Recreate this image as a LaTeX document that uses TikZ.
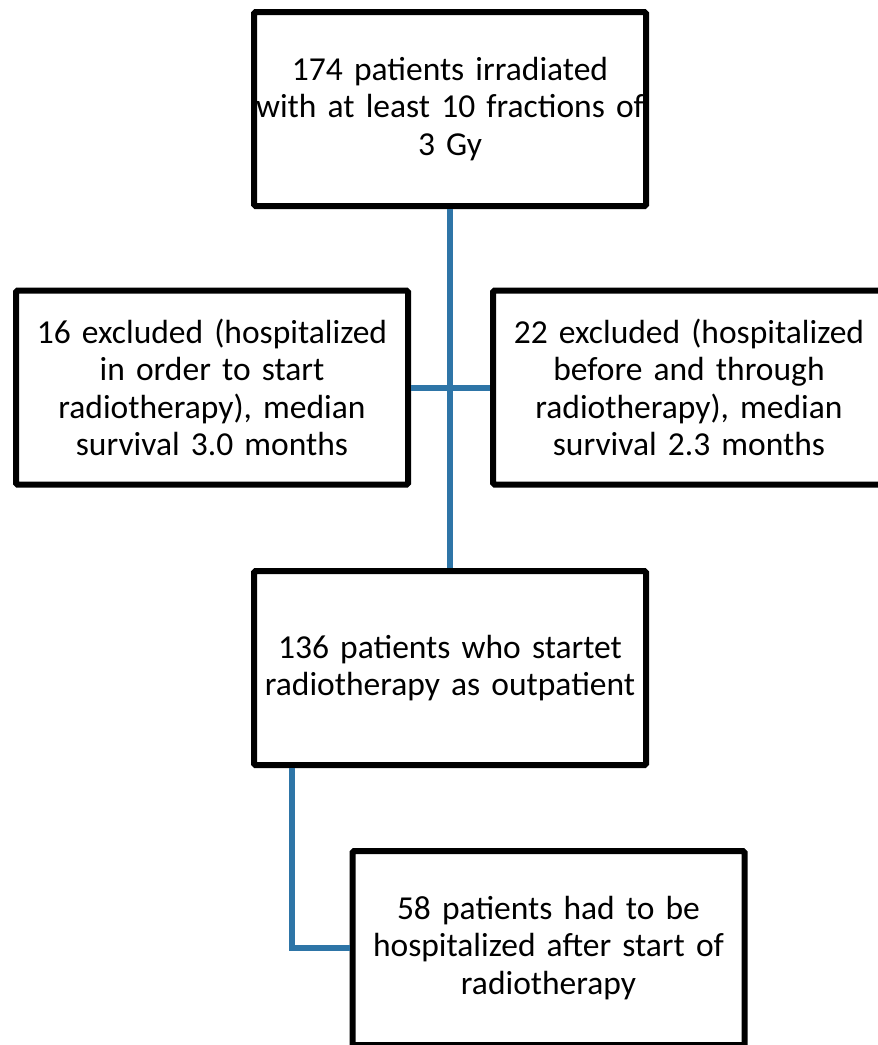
\documentclass[tikz,border=0pt]{standalone}
\usepackage{fontspec}
\setmainfont{Carlito}[WordSpace=0.7]
\usetikzlibrary{shapes,arrows}
\definecolor{flowblue}{RGB}{46,117,167}
\tikzstyle{block} = [rectangle, draw, fill=white, line width=6pt, rounded corners=1.5pt,
    text width=390pt, align=center, inner sep=0pt,
    minimum width=392pt, minimum height=194pt, font=\fontsize{33.5}{37.5}\selectfont]
\tikzstyle{line} = [draw, line width=6pt, flowblue]
\begin{document}
\begin{tikzpicture}[node distance = 559pt]
    \useasboundingbox (0,0) rectangle (878pt,-1045pt);
    % Place nodes
    \node [block] (init) at (450pt,-109pt) {174 patients irradiated\\with at least 10 fractions of\\3 Gy};
    \node [block, below of=init] (outpat) {136 patients who startet\\radiotherapy as outpatient};
    \node [block, below of=init, node distance=278.5pt, xshift=-238pt] (excl16) {16 excluded (hospitalized\\in order to start\\radiotherapy), median\\survival 3.0 months};
    \node [block, below of=init, node distance=278.5pt, xshift=239pt] (excl22) {22 excluded (hospitalized\\before and through\\radiotherapy), median\\survival 2.3 months};
    \node [block, below of=outpat, node distance=280pt, xshift=98.5pt] (hosp) {58 patients had to be\\hospitalized after start of\\radiotherapy};
    % Draw edges
    \path [line] (init) -- (outpat);
    \path [line] (excl16.east) -- (excl22.west);
    \path [line] ([xshift=41pt]outpat.south west) |- (hosp.west);
\end{tikzpicture}
\end{document}
